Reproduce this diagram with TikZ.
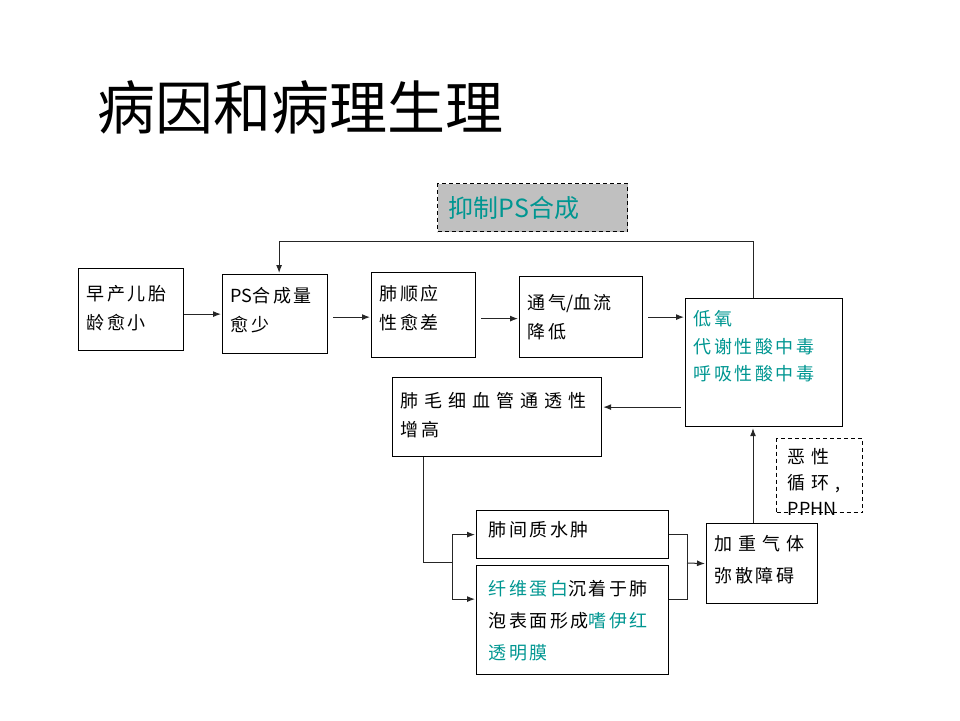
\documentclass[tikz,border=0pt]{standalone}
\usepackage{fontspec}
\setmainfont{Noto Sans CJK SC}
\newfontfamily\cjk{Noto Sans CJK SC}
\newfontfamily\cjkmid[LetterSpace=14]{Noto Sans CJK SC}
\newfontfamily\cjkwide[LetterSpace=33]{Noto Sans CJK SC}
\usepackage{tikz}
\usetikzlibrary{arrows.meta}
\definecolor{tealtxt}{RGB}{0,150,145}
\definecolor{boxgray}{RGB}{192,192,192}

\begin{document}
\begin{tikzpicture}[x=1pt, y=-1pt,
                thick,
                box/.style n args={3}{draw, line width=1.2pt,
                    anchor=north west, align=left,
                    text width=#1, text height=#2, text depth=#3,
                    inner xsep=8pt, inner ysep=0pt,
                    font=\cjkmid\fontsize{18}{29}\selectfont},
                lnk/.style={line width=1pt, black!85},
                arr/.style={lnk, -{Latex[length=8pt,width=6pt]}, shorten >=1pt}]
                \useasboundingbox (0,0) rectangle (960,720);
                \node[font=\cjk\fontsize{58}{58}\selectfont, anchor=base west, inner sep=0pt] (title) at (97,129) {病因和病理生理};
                \node[draw, line width=1.2pt, dash pattern=on 4pt off 3pt, fill=boxgray,
                    anchor=north west, minimum height=48pt, text width=168pt, inner xsep=11pt,
                    align=left, text=tealtxt, font=\cjk\fontsize{25}{25}\selectfont] (sup) at (437,183) {抑制PS合成};
                % main row
                \node[box={89pt}{32pt}{50pt}] (b1) at (78,268) {早产儿胎\\龄愈小};
                \node[box={89pt}{28pt}{51pt}] (b2) at (222,274) {{\cjk PS}合成量\\愈少};
                \node[box={88pt}{28pt}{57pt}] (b3) at (371,272) {肺顺应\\性愈差};
                \node[box={107pt}{33pt}{48pt}] (b4) at (519,276) {通气{\cjk /}血流\\降低};
                \node[box={141pt}{27pt}{101pt}, text=tealtxt,
                    font=\cjkmid\fontsize{18}{27.5}\selectfont] (b5) at (685,298) {低氧\\代谢性酸中毒\\呼吸性酸中毒};
                % lower part
                \node[box={193pt}{30pt}{49pt}] (b6) at (392,377) {{\cjkwide 肺毛细血管通透性}\\增高};
                \node[box={64pt}{25pt}{49pt}, dash pattern=on 4pt off 3pt, inner xsep=11pt,
                    font=\cjkwide\fontsize{18}{26}\selectfont] (b7) at (776,438) {恶性\\循环,\\{\cjk PPHN}};
                \node[box={168pt}{26pt}{22pt}, inner xsep=12pt] (b8) at (476,510) {肺间质水肿};
                \node[box={168pt}{30pt}{79pt}, inner xsep=12pt,
                    font=\cjkmid\fontsize{18}{32}\selectfont] (b9) at (476,565) {\textcolor{tealtxt}{纤维蛋白}沉着于肺\\泡表面形成\textcolor{tealtxt}{嗜伊红}\\\textcolor{tealtxt}{透明膜}};
                \node[box={95pt}{27pt}{53pt},
                    font=\cjkmid\fontsize{18}{32}\selectfont] (b10) at (706,523) {{\cjkwide 加重气体}\\弥散障碍};
                % connectors
                \coordinate (up) at (753,241);
                \coordinate (sp) at (452,562);
                \coordinate (mg) at (687,563);
                \draw[arr] (b1.east |- b2.west) -- (b2.west);
                \draw[arr, shorten <=5pt] ([yshift=-3pt]b2.east) -- ([yshift=-3pt]b2.east -| b3.west);
                \draw[arr, shorten <=5pt] ([yshift=-3.5pt]b3.east) -- ([yshift=-3.5pt]b3.east -| b4.west);
                \draw[arr, shorten <=5pt] (b4.east) -- (b4.east -| b5.west);
                \draw[arr] (up |- b5.north) -- (up) -| ([xshift=4pt]b2.north);
                \draw[arr, shorten <=4pt] ([yshift=10pt]b6.east -| b5.west) -- ([yshift=10pt]b6.east);
                \draw[arr] (up |- b10.north) -- (up |- b5.south);
                \draw[lnk] ([xshift=31pt]b6.south west) |- (sp);
                \draw[arr] (sp) |- (b8.west);
                \draw[arr] (sp) |- ([yshift=21pt]b9.west);
                \draw[lnk] (b8.east) -| (mg);
                \draw[lnk] ([yshift=21pt]b9.east) -| (mg);
                \draw[arr] (mg) -- (b10.west);
\end{tikzpicture}
\end{document}
